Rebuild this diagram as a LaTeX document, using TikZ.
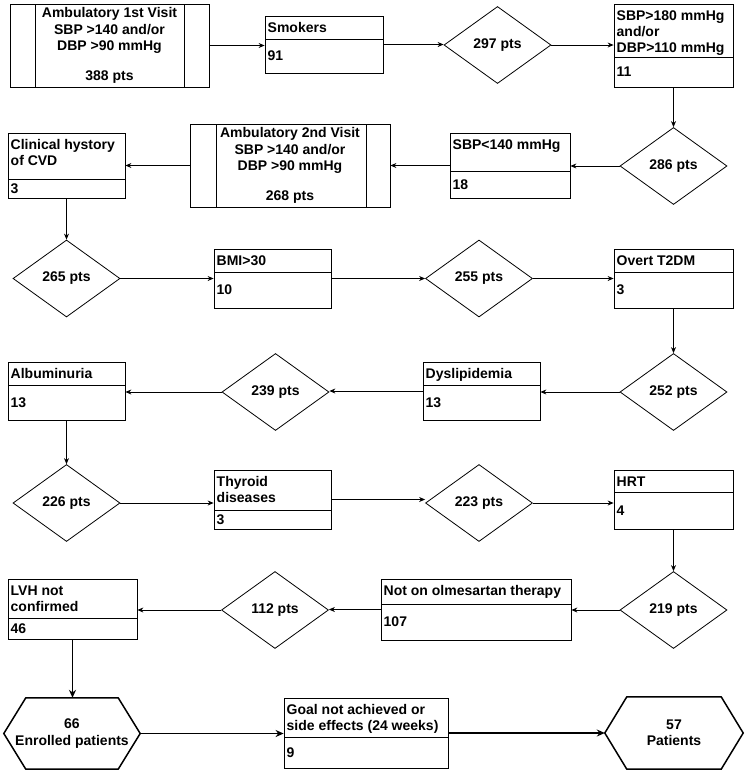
\documentclass[tikz,border=0pt]{standalone}
\usepackage{fontspec}
\setmainfont{Liberation Sans}
\usetikzlibrary{shapes.geometric,arrows.meta}

\tikzset{
  x=1pt, y=-1pt,
  txt/.style={font=\fontsize{14}{16.2}\selectfont\bfseries},
  box/.style={draw, rectangle, inner sep=0pt, line width=0.8pt},
  dia/.style={draw, diamond, inner sep=0pt, minimum width=107pt, minimum height=77pt, line width=0.8pt, txt},
  lbl/.style={txt, inner sep=2.5pt, align=left},
  arr/.style={-{Stealth[length=6pt,width=5pt]}, line width=0.8pt},
  tarr/.style={-{Stealth[length=8pt,width=7pt]}, line width=1.8pt},
  hexline/.style={line width=1.5pt, line join=miter},
}

% two-part box: name, x1, y1, x2, y2, ydiv, title, count
\newcommand\tbox[8]{%
  \node[box, minimum width={(#4-#2)*1pt}, minimum height={(#5-#3)*1pt}] (#1) at ({(#2+#4)/2},{(#3+#5)/2}) {};
  \draw[line width=0.8pt] (#2,#6) -- (#4,#6);
  \node[lbl, anchor=north west] (#1-t) at (#2,{#3+2}) {\strut #7};
  \node[lbl, anchor=west] (#1-c) at (#2,{(#6+#5)/2}) {#8};
}
% process box: name, x1, y1, x2, y2, inner x1, inner x2, text
\newcommand\pbox[8]{%
  \node[box, txt, align=center, minimum width={(#4-#2)*1pt}, minimum height={(#5-#3)*1pt}] (#1) at ({(#2+#4)/2},{(#3+#5)/2}) {#8};
  \draw[line width=0.8pt] (#6,#3) -- (#6,#5) (#7,#3) -- (#7,#5);
}
% hexagon: name, x1, y1, x2, y2, text
\newcommand\hexn[6]{%
  \node[txt, align=center, inner sep=0pt, minimum width={(#4-#2)*1pt}, minimum height={(#5-#3)*1pt}] (#1) at ({(#2+#4)/2},{(#3+#5)/2}) {#6};
  \draw[hexline] (#1.west) -- ([xshift=22pt]#1.north west) -- ([xshift=-22pt]#1.north east) -- (#1.east) -- ([xshift=-22pt]#1.south east) -- ([xshift=22pt]#1.south west) -- cycle;
}

\begin{document}
\begin{tikzpicture}
\fill[white] (0,0) rectangle (745,774);
\useasboundingbox (0,0) rectangle (745,774);

% Row 1
\pbox{amb1}{10}{4}{209}{87}{35}{184}{Ambulatory 1st Visit\\SBP >140 and/or\\DBP >90 mmHg\\[14pt]388 pts}
\tbox{smk}{265}{16}{383}{73}{39}{Smokers}{91}
\node[dia] (d297) at (497.5,45) {297 pts};
\tbox{sbp180}{614}{4}{733}{87}{57}{SBP>180 mmHg\\and/or\\DBP>110 mmHg}{11}

% Row 2
\node[dia] (d286) at (673.5,166) {286 pts};
\tbox{sbp140}{450}{133}{570}{198}{171}{SBP<140 mmHg}{18}
\pbox{amb2}{190}{124}{390}{207}{216}{366}{Ambulatory 2nd Visit\\SBP >140 and/or\\DBP >90 mmHg\\[14pt]268 pts}
\tbox{clin}{8}{133}{125}{198}{179}{Clinical hystory\\of CVD}{3}

% Row 3
\node[dia] (d265) at (66.5,278.5) {265 pts};
\tbox{bmi}{214}{249}{331}{308}{272}{BMI>30}{10}
\node[dia] (d255) at (479,278.5) {255 pts};
\tbox{t2dm}{614}{249}{733}{308}{272}{Overt T2DM}{3}

% Row 4
\node[dia] (d252) at (673.5,392) {252 pts};
\tbox{dys}{423}{362}{540}{420}{385}{Dyslipidemia}{13}
\node[dia] (d239) at (275.5,392) {239 pts};
\tbox{alb}{8}{362}{125}{420}{385}{Albuminuria}{13}

% Row 5
\node[dia] (d226) at (66.5,503) {226 pts};
\tbox{thy}{214}{470}{331}{529}{510}{Thyroid\\diseases}{3}
\node[dia] (d223) at (479,503) {223 pts};
\tbox{hrt}{614}{470}{733}{529}{492}{HRT}{4}

% Row 6
\node[dia] (d219) at (673.5,610) {219 pts};
\tbox{olm}{381}{579}{571}{640}{604}{Not on olmesartan therapy}{107}
\node[dia] (d112) at (275,610) {112 pts};
\tbox{lvh}{8}{579}{137}{639}{618}{LVH not\\confirmed}{46}

% Row 7
\hexn{hexa}{4}{698}{140}{769}{66\\Enrolled patients}
\tbox{goal}{284}{698}{448}{768}{737}{Goal not achieved or\\side effects (24 weeks)}{9}
\hexn{hexb}{605}{697}{743}{769}{57\\Patients}

% Connectors
\draw[arr] (amb1.east) -- (amb1.east -| smk.west);
\draw[arr] (smk.east) -- (smk.east -| d297.west);
\draw[arr] (d297.east) -- (d297.east -| sbp180.west);
\draw[arr] (sbp180.south) -- (sbp180.south |- d286.north);
\draw[arr] (d286.west) -- (d286.west -| sbp140.east);
\draw[arr] (sbp140.west) -- (sbp140.west -| amb2.east);
\draw[arr] (amb2.west) -- (amb2.west -| clin.east);
\draw[arr] (clin.south) -- (clin.south |- d265.north);
\draw[arr] (d265.east) -- (d265.east -| bmi.west);
\draw[arr] (bmi.east) -- (bmi.east -| d255.west);
\draw[arr] (d255.east) -- (d255.east -| t2dm.west);
\draw[arr] (t2dm.south) -- (t2dm.south |- d252.north);
\draw[arr] (d252.west) -- (d252.west -| dys.east);
\draw[arr] (dys.west) -- (dys.west -| d239.east);
\draw[arr] (d239.west) -- (d239.west -| alb.east);
\draw[arr] (alb.south) -- (alb.south |- d226.north);
\draw[arr] (d226.east) -- (d226.east -| thy.west);
\draw[arr] (thy.east) -- (thy.east -| d223.west);
\draw[arr] (d223.east) -- (d223.east -| hrt.west);
\draw[arr] (hrt.south) -- (hrt.south |- d219.north);
\draw[arr] (d219.west) -- (d219.west -| olm.east);
\draw[arr] (olm.west) -- (olm.west -| d112.east);
\draw[arr] (d112.west) -- (d112.west -| lvh.east);
\draw[tarr] (lvh.south) -- (lvh.south |- hexa.north);
\draw[tarr] (hexa.east) -- (hexa.east -| goal.west);
\draw[tarr] (goal.east) -- (goal.east -| hexb.west);
\end{tikzpicture}
\end{document}
